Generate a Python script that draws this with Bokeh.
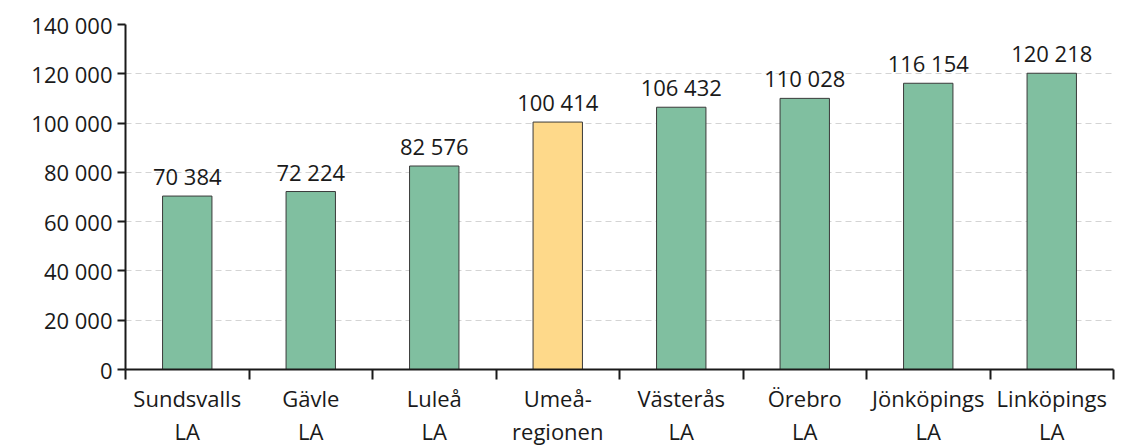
from bokeh.plotting import figure
from bokeh.models import ColumnDataSource, FixedTicker, CustomJSTickFormatter, Range1d
from bokeh.core.properties import value
from bokeh.embed import file_html
from bokeh.resources import INLINE

categories = ["Sundsvalls\nLA", "Gävle\nLA", "Luleå\nLA", "Umeå-\nregionen",
              "Västerås\nLA", "Örebro\nLA", "Jönköpings\nLA", "Linköpings\nLA"]
values = [70384, 72224, 82576, 100414, 106432, 110028, 116154, 120218]
highlight = "Umeå-\nregionen"
y_ticks = [0, 20000, 40000, 60000, 80000, 100000, 120000, 140000]

GREEN = "#80bfa0"
YELLOW = "#fed98a"
FONT = "Open Sans"
FS = "22px"

def fmt(v):
    return f"{v:,}".replace(",", " ")

xs = [i + 0.5 for i in range(len(categories))]
src = ColumnDataSource(dict(
    x=xs,
    top=values,
    color=[YELLOW if c == highlight else GREEN for c in categories],
    label=[fmt(v) for v in values],
))

p = figure(width=1135, height=448, output_backend="svg", toolbar_location=None,
           x_range=Range1d(0, len(categories)), y_range=Range1d(0, 140000),
           min_border_left=125, min_border_right=22, min_border_top=24, min_border_bottom=64)
p.outline_line_color = None
p.background_fill_color = "white"
p.border_fill_color = "white"

p.vbar(x="x", top="top", width=0.4, source=src, fill_color="color",
       line_color="#3a3a3a", line_width=1)
p.text(x="x", y="top", text="label", source=src, text_align="center",
       text_baseline="alphabetic", y_offset=-20, text_font=value(FONT),
       text_font_size=FS, text_color="#1a1a1a")

# y axis
p.yaxis.ticker = FixedTicker(ticks=y_ticks, minor_ticks=[])
p.yaxis.formatter = CustomJSTickFormatter(code="""
    return Math.round(tick).toString().replace(/\\B(?=(\\d{3})+(?!\\d))/g, ' ');
""")
p.yaxis.major_tick_out = 8
p.yaxis.major_tick_in = 0
p.yaxis.major_tick_line_width = 2
p.yaxis.axis_line_width = 2
p.yaxis.axis_line_color = "#1a1a1a"
p.yaxis.major_tick_line_color = "#1a1a1a"
p.yaxis.major_label_text_font = FONT
p.yaxis.major_label_text_font_size = FS
p.yaxis.major_label_text_color = "#1a1a1a"
p.yaxis.major_label_standoff = 5

# x axis
p.xaxis.ticker = FixedTicker(ticks=xs, minor_ticks=list(range(len(categories) + 1)))
p.xaxis.major_label_overrides = {x: c for x, c in zip(xs, categories)}
p.xaxis.major_tick_out = 0
p.xaxis.major_tick_in = 0
p.xaxis.minor_tick_out = 10
p.xaxis.minor_tick_in = 0
p.xaxis.minor_tick_line_width = 2
p.xaxis.minor_tick_line_color = "#1a1a1a"
p.xaxis.axis_line_width = 2
p.xaxis.axis_line_color = "#1a1a1a"
p.xaxis.major_label_text_font = FONT
p.xaxis.major_label_text_font_size = FS
p.xaxis.major_label_text_color = "#1a1a1a"
p.xaxis.major_label_standoff = 3
p.xaxis.major_label_text_line_height = 1.1

p.xgrid.grid_line_color = None
p.ygrid.ticker = FixedTicker(ticks=y_ticks[1:])
p.ygrid.grid_line_color = "#d4d4d4"
p.ygrid.grid_line_dash = "6 4"
p.ygrid.grid_line_width = 1

open("out.html", "w").write(file_html(p, INLINE))
